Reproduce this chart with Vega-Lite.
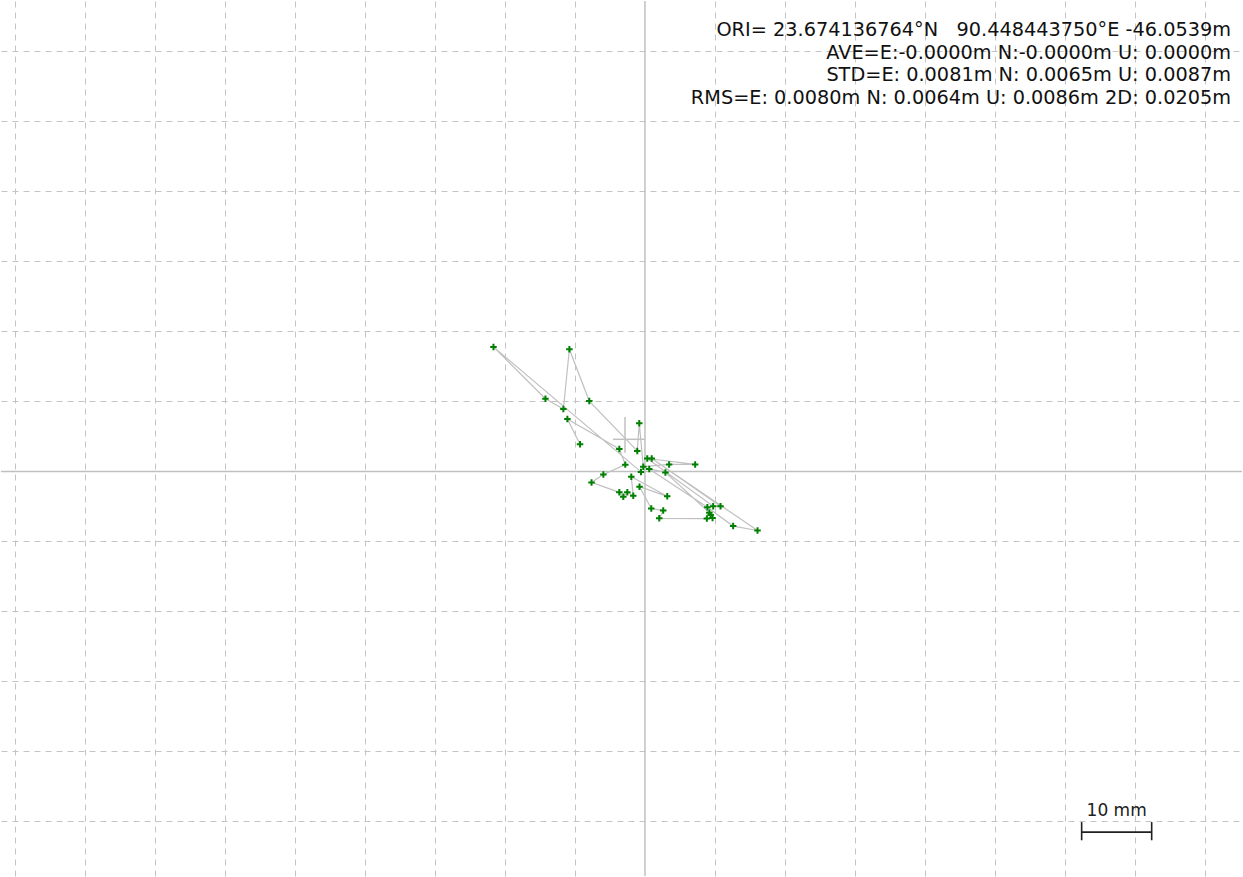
{
  "$schema": "https://vega.github.io/schema/vega-lite/v6.json",
  "width": 1243,
  "height": 877,
  "autosize": {"type": "fit", "contains": "padding"},
  "padding": 0,
  "background": "white",
  "config": {"view": {"stroke": null}},
  "datasets": {
    "track": [
      {"t": 0, "E": -0.00057, "N": -0.00007},
      {"t": 2, "E": -0.02163, "N": 0.01779},
      {"t": 3, "E": -0.01421, "N": 0.01038},
      {"t": 4, "E": -0.01165, "N": 0.00891},
      {"t": 5, "E": -0.01079, "N": 0.01746},
      {"t": 6, "E": -0.00795, "N": 0.01005},
      {"t": 7, "E": -0.00110, "N": 0.00292},
      {"t": 8, "E": -0.00081, "N": 0.00687},
      {"t": 9, "E": -0.00024, "N": 0.00068},
      {"t": 10, "E": 0.00345, "N": 0.00100},
      {"t": 11, "E": 0.00717, "N": 0.00100},
      {"t": 12, "E": 0.00033, "N": 0.00185},
      {"t": 13, "E": 0.00974, "N": -0.00496},
      {"t": 14, "E": 0.01079, "N": -0.00496},
      {"t": 15, "E": 0.00097, "N": 0.00185},
      {"t": 16, "E": 0.01607, "N": -0.00844},
      {"t": 17, "E": 0.01259, "N": -0.00781},
      {"t": 18, "E": 0.00891, "N": -0.00513},
      {"t": 19, "E": 0.00061, "N": 0.00036},
      {"t": 20, "E": 0.00292, "N": -0.00014},
      {"t": 21, "E": 0.00919, "N": -0.00589},
      {"t": 22, "E": 0.00938, "N": -0.00624},
      {"t": 23, "E": 0.00965, "N": -0.00667},
      {"t": 24, "E": 0.00884, "N": -0.00673},
      {"t": 25, "E": 0.00204, "N": -0.00670},
      {"t": 26, "E": 0.00261, "N": -0.00559},
      {"t": 27, "E": 0.00090, "N": -0.00530},
      {"t": 28, "E": -0.00078, "N": -0.00218},
      {"t": 29, "E": 0.00318, "N": -0.00356},
      {"t": 30, "E": -0.00195, "N": -0.00076},
      {"t": 31, "E": -0.00167, "N": -0.00349},
      {"t": 32, "E": -0.00252, "N": -0.00299},
      {"t": 33, "E": -0.00309, "N": -0.00361},
      {"t": 34, "E": -0.00366, "N": -0.00299},
      {"t": 35, "E": -0.00763, "N": -0.00157},
      {"t": 36, "E": -0.00594, "N": -0.00043},
      {"t": 37, "E": -0.00281, "N": 0.00097},
      {"t": 38, "E": -0.00366, "N": 0.00321},
      {"t": 39, "E": -0.01108, "N": 0.00748},
      {"t": 40, "E": -0.00927, "N": 0.00388}
    ],
    "cross": [
      {"E1": -0.00285, "E2": -0.00285, "N1": 0.00777, "N2": 0.00268},
      {"E1": -0.00456, "E2": 0.0, "N1": 0.00459, "N2": 0.00459}
    ],
    "stats": [
      {"lines": [
        "ORI= 23.674136764°N\u00a0\u00a0\u00a090.448443750°E -46.0539m",
        "AVE=E:-0.0000m N:-0.0000m U: 0.0000m",
        "STD=E: 0.0081m N: 0.0065m U: 0.0087m",
        "RMS=E: 0.0080m N: 0.0064m U: 0.0086m 2D: 0.0205m"
      ]}
    ],
    "scalebar": [
      {"E1": 0.06235, "E2": 0.07235, "N1": -0.05153, "N2": -0.05153},
      {"E1": 0.06235, "E2": 0.06235, "N1": -0.0501, "N2": -0.0527},
      {"E1": 0.07235, "E2": 0.07235, "N1": -0.0501, "N2": -0.0527}
    ],
    "scalelabel": [
      {"label": "10 mm", "E": 0.06735, "N": -0.04925}
    ]
  },
  "layer": [
    {
      "data": {"name": "track"},
      "mark": {"type": "line", "color": "#c0c0c0", "strokeWidth": 1.2, "interpolate": "linear"},
      "encoding": {
        "order": {"field": "t", "type": "quantitative"},
        "x": {
          "field": "E", "type": "quantitative",
          "scale": {"domain": [-0.091946, 0.085246], "nice": false, "zero": false},
          "axis": {
            "orient": "bottom", "labels": false, "ticks": false, "domain": false, "title": null,
            "grid": true, "gridColor": "#c4c4c4", "gridWidth": 1, "gridDash": [6, 5],
            "values": [-0.09, -0.08, -0.07, -0.06, -0.05, -0.04, -0.03, -0.02, -0.01, 0.01, 0.02, 0.03, 0.04, 0.05, 0.06, 0.07, 0.08],
            "minExtent": 0, "maxExtent": 0, "offset": 0
          }
        },
        "y": {
          "field": "N", "type": "quantitative",
          "scale": {"domain": [-0.057805, 0.067213], "nice": false, "zero": false},
          "axis": {
            "orient": "left", "labels": false, "ticks": false, "domain": false, "title": null,
            "grid": true, "gridColor": "#c4c4c4", "gridWidth": 1, "gridDash": [6, 5],
            "values": [-0.05, -0.04, -0.03, -0.02, -0.01, 0.01, 0.02, 0.03, 0.04, 0.05, 0.06],
            "minExtent": 0, "maxExtent": 0, "offset": 0
          }
        }
      }
    },
    {
      "data": {"values": [{}]},
      "mark": {"type": "rule", "color": "#c0c0c0", "strokeWidth": 1.5},
      "encoding": {
        "y": {"datum": 0, "type": "quantitative", "scale": {"domain": [-0.057805, 0.067213], "nice": false, "zero": false}}
      }
    },
    {
      "data": {"values": [{}]},
      "mark": {"type": "rule", "color": "#c0c0c0", "strokeWidth": 1.5},
      "encoding": {
        "x": {"datum": 0, "type": "quantitative", "scale": {"domain": [-0.091946, 0.085246], "nice": false, "zero": false}}
      }
    },
    {
      "data": {"name": "cross"},
      "mark": {"type": "rule", "color": "#c0c0c0", "strokeWidth": 1.5},
      "encoding": {
        "x": {"field": "E1", "type": "quantitative", "scale": {"domain": [-0.091946, 0.085246], "nice": false, "zero": false}},
        "x2": {"field": "E2"},
        "y": {"field": "N1", "type": "quantitative", "scale": {"domain": [-0.057805, 0.067213], "nice": false, "zero": false}},
        "y2": {"field": "N2"}
      }
    },
    {
      "data": {"name": "track"},
      "mark": {"type": "point", "shape": "M-1,0L1,0M0,-1L0,1", "filled": false, "stroke": "#008000", "strokeWidth": 2, "size": 42, "opacity": 1},
      "encoding": {
        "x": {"field": "E", "type": "quantitative", "scale": {"domain": [-0.091946, 0.085246], "nice": false, "zero": false}},
        "y": {"field": "N", "type": "quantitative", "scale": {"domain": [-0.057805, 0.067213], "nice": false, "zero": false}}
      }
    },
    {
      "data": {"name": "scalebar"},
      "mark": {"type": "rule", "color": "#202020", "strokeWidth": 1.6},
      "encoding": {
        "x": {"field": "E1", "type": "quantitative", "scale": {"domain": [-0.091946, 0.085246], "nice": false, "zero": false}},
        "x2": {"field": "E2"},
        "y": {"field": "N1", "type": "quantitative", "scale": {"domain": [-0.057805, 0.067213], "nice": false, "zero": false}},
        "y2": {"field": "N2"}
      }
    },
    {
      "data": {"name": "scalelabel"},
      "mark": {"type": "text", "font": "DejaVu Sans", "fontSize": 17, "color": "#202020", "align": "center", "baseline": "alphabetic"},
      "encoding": {
        "x": {"field": "E", "type": "quantitative", "scale": {"domain": [-0.091946, 0.085246], "nice": false, "zero": false}},
        "y": {"field": "N", "type": "quantitative", "scale": {"domain": [-0.057805, 0.067213], "nice": false, "zero": false}},
        "text": {"field": "label"}
      }
    },
    {
      "data": {"name": "stats"},
      "mark": {"type": "text", "font": "DejaVu Sans", "fontSize": 19.3, "color": "#111111", "align": "right", "baseline": "alphabetic", "lineHeight": 22.7, "x": {"expr": "width - 11"}, "y": 35},
      "encoding": {
        "text": {"field": "lines"}
      }
    }
  ]
}
